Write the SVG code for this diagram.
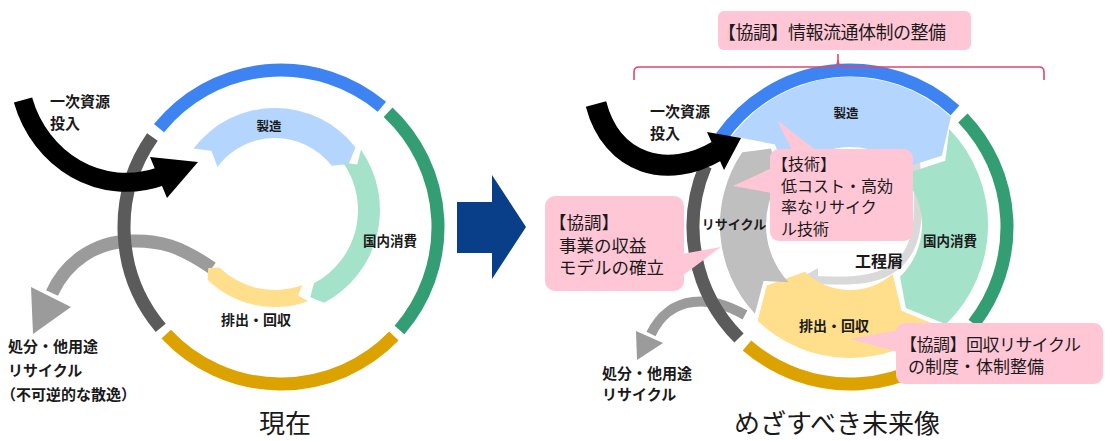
<svg xmlns="http://www.w3.org/2000/svg" width="1105" height="441" viewBox="0 0 1105 441">
<style>
.t{font-family:"Noto Sans CJK JP","Noto Sans",sans-serif;fill:#1a1a1a}
.b{font-weight:700}
.m{text-anchor:middle}
.ring{fill:none;stroke-width:13}
.pink{fill:#ffc6d6}
</style>
<rect width="1105" height="441" fill="#ffffff"/>

<g id="connectors">
  <!-- left discard arrow -->
  <path d="M 212,268 C 180,246 160,240 130,241 C 95,242 66,262 52,293" fill="none" stroke="#9b9b9b" stroke-width="13"/>
  <polygon points="31,287 71,307 33,334" fill="#9b9b9b"/>
  <!-- right discard arrow -->
  <path d="M 745,315 C 725,304 710,300 693,302 C 675,304 660,315 651,334" fill="none" stroke="#9b9b9b" stroke-width="10"/>
  <polygon points="636,331 663,343 637,360" fill="#9b9b9b"/>
  <!-- right process scrap arrow -->
  <path d="M 916,160 C 919,210 924,255 885,273 C 865,282 840,281 816,280" fill="none" stroke="#d9d9d9" stroke-width="8"/>
  <polygon points="818,268 797,280 818,291" fill="#d9d9d9"/>
</g>

<g id="left-outer-ring">
  <path class="ring" stroke="#3d84f2" d="M 159.0,128.2 A 157 157 0 0 1 381.9,106.7"/>
  <path class="ring" stroke="#339e74" d="M 388.1,112.2 A 157 157 0 0 1 399.5,330.0"/>
  <path class="ring" stroke="#dca200" d="M 393.9,336.1 A 157 157 0 0 1 166.2,334.1"/>
  <path class="ring" stroke="#5b5b5b" d="M 160.7,327.9 A 157 157 0 0 1 152.4,137.0"/>
</g>

<g id="left-inner-ring">
  <path id="left-seizo" fill="#b4d5fd" d="M 193.5,148.6 A 102 102 0 0 1 355.4,147.2 L 348.8,163.9 L 331.7,165.7 A 72 72 0 0 0 217.5,166.7 L 211.4,150.7 Z"/>
  <path id="left-shohi" fill="#a4e2c9" d="M 361.0,149.8 A 105 105 0 0 1 324.3,302.7 L 310.2,297.2 L 314.0,283.3 A 83 83 0 0 0 343.0,162.4 L 357.2,164.4 Z"/>
  <path id="left-haishutsu" fill="#ffdf8c" d="M 308.2,301.2 A 97 97 0 0 1 207.6,279.8 L 208.2,268.1 L 219.4,267.5 A 80 80 0 0 0 302.4,285.2 L 297.9,295.5 Z"/>
</g>

<g id="right-outer-ring">
  <path class="ring" stroke="#3d84f2" d="M 721.4,136.9 A 157 157 0 0 1 955.0,110.3"/>
  <path class="ring" stroke="#339e74" d="M 962.9,117.9 A 157 157 0 0 1 973.7,323.7"/>
  <path class="ring" stroke="#dca200" d="M 966.7,332.0 A 157 157 0 0 1 747.0,345.5"/>
  <path class="ring" stroke="#5b5b5b" d="M 739.0,338.0 A 157 157 0 0 1 705.5,165.7"/>
</g>

<g id="right-inner-ring">
  <path id="right-seizo" fill="#b4d5fd" d="M 731.8,135.9 A 148 148 0 0 1 950.9,116.8 L 941.8,155.8 L 903.2,168.0 A 78 78 0 0 0 787.7,178.1 L 775.0,144.5 Z"/>
  <path id="right-shohi" fill="#a4e2c9" d="M 949.3,129.1 A 138 138 0 0 1 945.9,324.3 L 905.9,307.9 L 900.0,276.8 A 72 72 0 0 0 901.8,175.0 L 945.3,160.7 Z"/>
  <path id="right-haishutsu" fill="#ffdf8c" d="M 937.3,325.4 A 133 133 0 0 1 757.6,320.7 L 766.7,285.5 L 804.8,271.8 A 65 65 0 0 0 892.6,274.1 L 901.5,310.7 Z"/>
  <path id="right-recycle" fill="#bfbfbf" d="M 754.9,313.7 A 130 130 0 0 1 742.2,152.3 L 770.9,148.6 L 780.4,178.0 A 84 84 0 0 0 788.6,282.3 L 763.6,281.1 Z"/>
</g>

<g id="left-input-arrow">
  <path d="M 23,100 C 40,160 100,198 162,176" fill="none" stroke="#000" stroke-width="19"/>
  <polygon points="150,157 198,162 167,198" fill="#000"/>
</g>
<g id="right-input-arrow">
  <path d="M 596,104 C 612,165 668,180 717,151" fill="none" stroke="#000" stroke-width="21"/>
  <polygon points="707,132 741,138 724,170" fill="#000"/>
</g>

<g id="transition-arrow">
  <polygon points="457,202 492,202 492,175 526,227 492,279 492,253 457,253" fill="#083f88"/>
</g>

<g id="callout-info">
  <rect class="pink" x="718" y="11" width="253" height="39" rx="6"/>
  <text class="t" x="718" y="39" font-size="18" textLength="228" lengthAdjust="spacing">【協調】情報流通体制の整備</text>
  <path d="M 634,80 L 634,72 Q 634,67 639,67 L 831,67 Q 838,67 838,60 L 838,54 M 838,60 Q 838,67 845,67 L 1039,67 Q 1044,67 1044,72 L 1044,80" fill="none" stroke="#e2466f" stroke-width="1.6"/>
</g>

<g id="callout-tech">
  <rect class="pink" x="770" y="149" width="143" height="92" rx="9"/>
  <polygon class="pink" points="793,152 777,120 818,152"/>
  <polygon class="pink" points="772,168 733,186 772,193"/>
  <text class="t" font-size="16" x="772" y="170">【技術】</text>
  <text class="t" font-size="16" x="781" y="191.5">低コスト・高効</text>
  <text class="t" font-size="16" x="781" y="213">率なリサイク</text>
  <text class="t" font-size="16" x="781" y="235">ル技術</text>
</g>

<g id="callout-business">
  <rect class="pink" x="545" y="196" width="139" height="95" rx="10"/>
  <polygon class="pink" points="682,254 721,247 682,276"/>
  <text class="t" font-size="17.5" x="549" y="229">【協調】</text>
  <text class="t" font-size="17.5" x="559" y="252">事業の収益</text>
  <text class="t" font-size="17.5" x="559" y="274">モデルの確立</text>
</g>

<g id="callout-collect">
  <rect class="pink" x="896" y="323" width="207" height="61" rx="9"/>
  <polygon class="pink" points="898,330 850,339 898,352"/>
  <text class="t" font-size="17" x="900" y="351" textLength="181" lengthAdjust="spacing">【協調】回収リサイクル</text>
  <text class="t" font-size="17" x="908" y="373">の制度・体制整備</text>
</g>

<g id="labels-left">
  <text class="t b" font-size="15" x="50" y="107">一次資源</text>
  <text class="t b" font-size="15" x="50" y="129">投入</text>
  <text class="t b m" font-size="12.5" x="269" y="131">製造</text>
  <text class="t b m" font-size="13.5" x="390" y="246">国内消費</text>
  <text class="t b m" font-size="14" x="256" y="325">排出・回収</text>
  <text class="t b" font-size="15" x="8" y="352">処分・他用途</text>
  <text class="t b" font-size="15" x="8" y="376">リサイクル</text>
  <text class="t b" font-size="15" x="1" y="400">（不可逆的な散逸）</text>
  <text class="t m" font-size="26" x="285" y="433">現在</text>
</g>

<g id="labels-right">
  <text class="t b" font-size="15" x="650" y="117">一次資源</text>
  <text class="t b" font-size="15" x="650" y="139">投入</text>
  <text class="t b m" font-size="12.5" x="846" y="118">製造</text>
  <text class="t b m" font-size="13.5" x="950" y="246">国内消費</text>
  <text class="t b m" font-size="16" x="879" y="267">工程屑</text>
  <text class="t b m" font-size="14" x="834" y="331">排出・回収</text>
  <text class="t b m" font-size="13" x="734" y="229">リサイクル</text>
  <text class="t b" font-size="15" x="602" y="379">処分・他用途</text>
  <text class="t b" font-size="15" x="602" y="400">リサイクル</text>
  <text class="t m" font-size="26" x="837" y="433">めざすべき未来像</text>
</g>
</svg>
